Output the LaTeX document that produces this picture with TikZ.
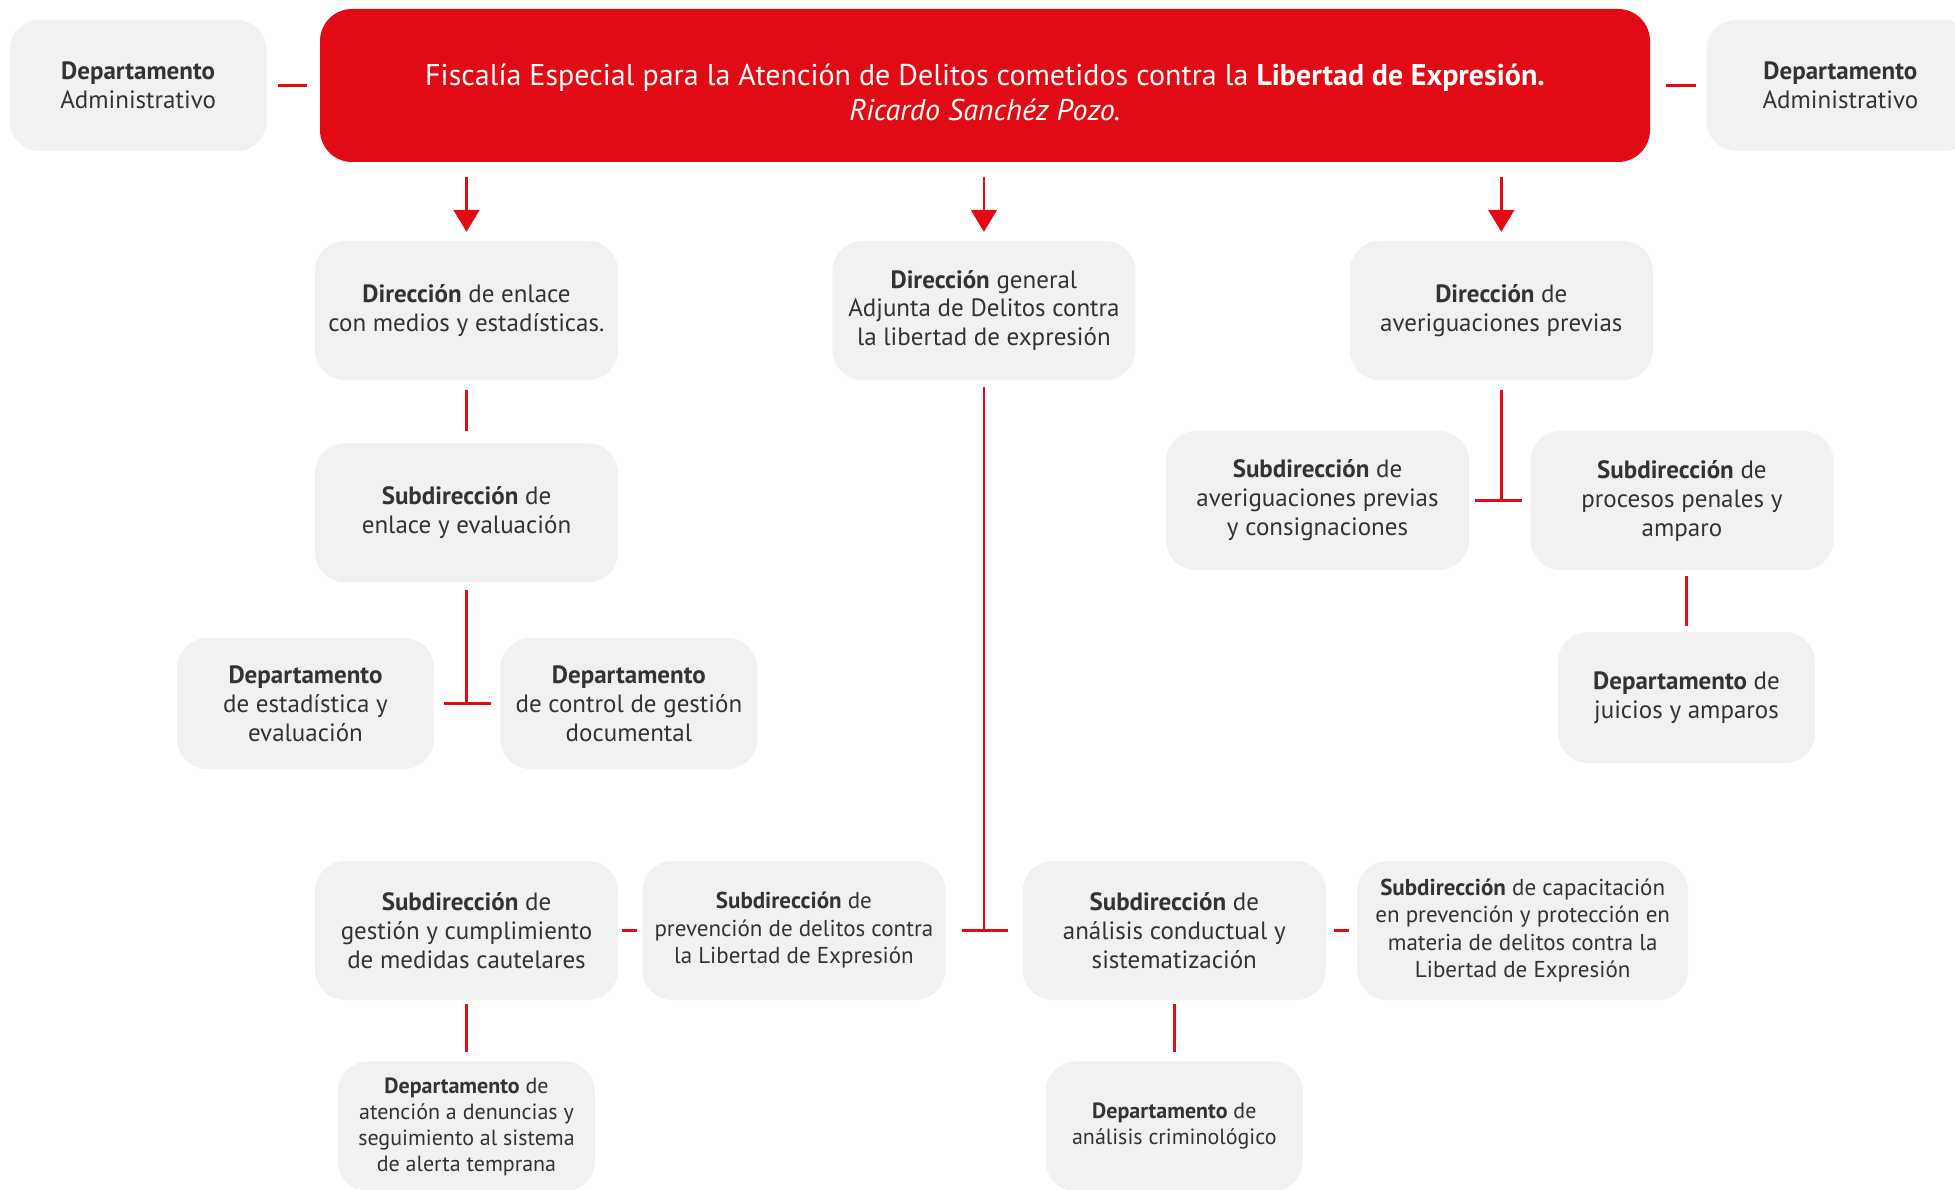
\documentclass[tikz,border=0pt]{standalone}
\usepackage{fontspec}
\setmainfont{PT Sans}
\usetikzlibrary{arrows.meta, positioning, calc}
\usepackage{xcolor}
\definecolor{FiscalRed}{HTML}{E20A14}
\definecolor{BoxGray}{HTML}{F1F1F1}
\definecolor{TextGray}{HTML}{333333}
\tikzset{
  gbox/.style={fill=BoxGray, rounded corners=30pt, align=center,
    minimum width=303pt, minimum height=139pt, inner sep=4pt,
    font=\fontsize{25}{29}\selectfont, text=TextGray},
  dbox/.style={gbox, minimum width=257pt, minimum height=131pt},
  sbox/.style={gbox, font=\fontsize{23}{27.5}\selectfont},
  tbox/.style={fill=FiscalRed, rounded corners=32pt, align=center,
    minimum width=1330pt, minimum height=153pt, inner sep=4pt,
    font=\fontsize{30}{35}\selectfont, text=white},
  link/.style={draw=FiscalRed, line width=2.6pt},
  flow/.style={-{Triangle[width=26pt, length=22pt]}, link},
}

\begin{document}
\begin{tikzpicture}[x=1pt, y=-1pt]
    \clip (0,0) rectangle (1955,1190);
    % top
    \node[tbox, text height=70pt] (fiscalia) at (985,85.5) {Fiscalía Especial para la Atención de Delitos cometidos contra la \textbf{Libertad de Expresión.}\\\textit{Ricardo Sanchéz Pozo.}};
    \node[dbox, left=53pt of fiscalia] (admizq) {\textbf{Departamento}\\Administrativo};
    \node[dbox, minimum width=268pt, right=56pt of fiscalia] (admder) {\textbf{Departamento}\\Administrativo};
    % direcciones
    \node[gbox] (direnl) at (466.5,310.5) {\textbf{Dirección} de enlace\\con medios y estadísticas.};
    \node[gbox, right=214pt of direnl] (dirgen) {\textbf{Dirección} general\\Adjunta de Delitos contra\\la libertad de expresión};
    \node[gbox, right=214pt of dirgen] (dirave) {\textbf{Dirección} de\\averiguaciones previas};
    % rama izquierda
    \node[gbox, below=63pt of direnl] (subenl) {\textbf{Subdirección} de\\enlace y evaluación};
    \node[dbox] (deptest) at (305.5,703.5) {\textbf{Departamento}\\de estadística y\\evaluación};
    \node[dbox, right=66pt of deptest] (deptctl) {\textbf{Departamento}\\de control de gestión\\documental};
    % rama derecha
    \node[gbox] (subave) at (1317.5,500.5) {\textbf{Subdirección} de\\averiguaciones previas\\y consignaciones};
    \node[gbox, right=61pt of subave] (subpro) {\textbf{Subdirección} de\\procesos penales y\\amparo};
    \node[dbox] (juicios) at (1686.5,697.5) {\textbf{Departamento} de\\juicios y amparos};
    % fila inferior
    \node[gbox] (gestion) at (466.5,930.5) {\textbf{Subdirección} de\\gestión y cumplimiento\\de medidas cautelares};
    \node[sbox, right=24pt of gestion] (prevencion) {\textbf{Subdirección} de\\prevención de delitos contra\\la Libertad de Expresión};
    \node[gbox, right=77pt of prevencion] (analisis) {\textbf{Subdirección} de\\análisis conductual y\\sistematización};
    \node[sbox, minimum width=331pt, right=31pt of analisis] (capacit) {\textbf{Subdirección} de capacitación\\en prevención y protección en\\materia de delitos contra la\\Libertad de Expresión};
    \node[dbox, font=\fontsize{22}{26}\selectfont, minimum height=130pt, below=61pt of gestion] (atencion) {\textbf{Departamento} de\\atención a denuncias y\\seguimiento al sistema\\de alerta temprana};
    \node[dbox, font=\fontsize{22}{26}\selectfont, minimum height=130pt, below=61pt of analisis] (criminol) {\textbf{Departamento} de\\análisis criminológico};

    % connectors
    \draw[link, shorten <=11pt, shorten >=13pt] (admizq) -- (fiscalia);
    \draw[link, shorten <=16pt, shorten >=10pt] (fiscalia) -- (admder);
    \foreach \n in {direnl, dirgen, dirave}
      \draw[flow, shorten <=15pt, shorten >=9pt] (fiscalia.south -| \n) -- (\n);
    \draw[link, shorten <=10pt, shorten >=12pt] (direnl) -- (subenl);
    \draw[link, shorten <=7pt] (subenl) -- (subenl |- deptest.east);
    \draw[link, shorten <=10pt, shorten >=9pt] (deptest) -- (deptctl);
    \draw[link, shorten <=7pt] (dirgen) -- (dirgen |- prevencion.east);
    \draw[link, shorten <=16pt, shorten >=15pt] (prevencion) -- (analisis);
    \draw[link, shorten <=4pt, shorten >=5pt] (gestion) -- (prevencion);
    \draw[link, shorten <=8pt, shorten >=8pt] (analisis) -- (capacit);
    \draw[link, shorten <=4pt, shorten >=9pt] (gestion) -- (atencion);
    \draw[link, shorten <=4pt, shorten >=9pt] (analisis) -- (criminol);
    \draw[link, shorten <=10pt] (dirave) -- (dirave |- subave.east);
    \draw[link, shorten <=6pt, shorten >=8pt] (subave) -- (subpro);
    \draw[link, shorten <=6pt, shorten >=6pt] (subpro.south -| juicios) -- (juicios);
\end{tikzpicture}
\end{document}
